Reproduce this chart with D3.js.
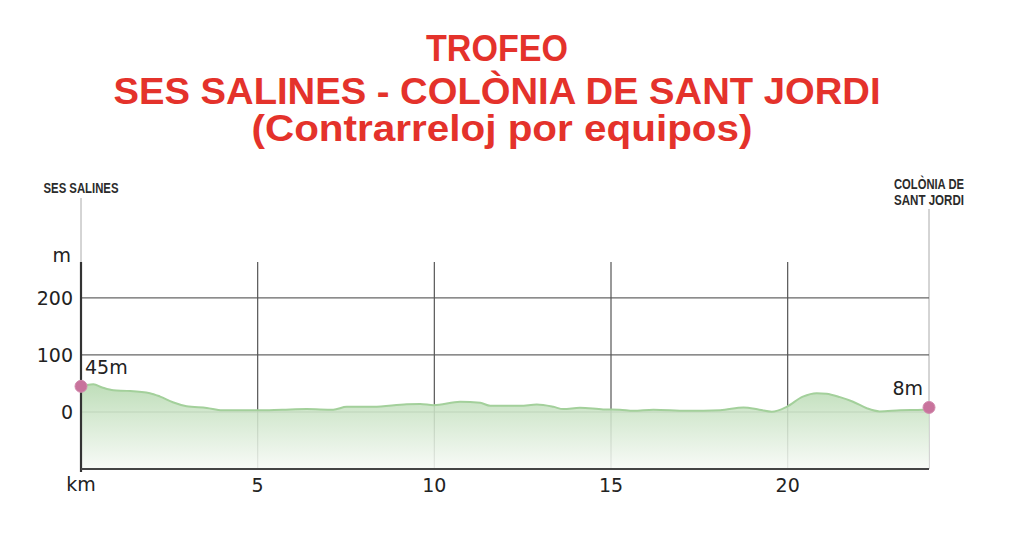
<!DOCTYPE html>
<html><head><meta charset="utf-8">
<script src="https://cdn.jsdelivr.net/npm/d3@7"></script>
<style>body{margin:0;background:#fff}svg{display:block}</style>
</head><body>
<svg id="c" width="1024" height="546"></svg>
<script>
const titleLines = ["TROFEO", "SES SALINES - COLÒNIA DE SANT JORDI", "(Contrarreloj por equipos)"];
const startName = ["SES SALINES"];
const endName = ["COLÒNIA DE", "SANT JORDI"];
const km =   [0, 0.15, 0.35, 0.6, 0.92, 1.3, 1.95, 2.24, 2.6, 2.99, 3.56, 4.0, 4.5, 5.0, 5.7, 6.39, 7.14, 7.52, 8.27, 9.22, 9.6, 9.98, 10.73, 11.3, 11.58, 12.43, 12.9, 13.37, 13.65, 14.12, 14.78, 15.25, 15.63, 16.2, 17.14, 18.09, 18.75, 19.2, 19.55, 19.97, 20.43, 20.82, 21.1, 21.48, 21.85, 22.24, 22.6, 23.18, 23.83, 24];
const elev = [45, 47, 48.5, 43, 38, 37, 33, 27, 17, 10, 7, 3, 3, 3, 4, 5, 4, 9, 9, 13.5, 14, 12, 18, 16, 11, 11, 13, 9, 5, 7.5, 4.5, 4, 2, 4, 2, 3, 8, 4, 0.5, 9, 27, 33, 32, 26, 18, 6.5, 1, 3, 4, 8];
const xTicks = [5, 10, 15, 20];
const yTicks = [0, 100, 200];
const endpoints = [{k: 0, e: 45, label: "45m"}, {k: 24, e: 8, label: "8m"}];

const svg = d3.select("#c");
const x = d3.scaleLinear().domain([0, 24]).range([81, 929]);
const y = d3.scaleLinear().domain([-100, 263]).range([469, 262]);
const data = km.map((k, i) => ({k, e: elev[i]}));

// title
const titleFont = "'Liberation Sans Narrow','Liberation Sans',Arial,sans-serif";
const tPos = [{b: 61, w: 142}, {b: 104, w: 767}, {b: 141, w: 501}];
svg.selectAll("text.title").data(titleLines).join("text")
  .attr("class", "title")
  .attr("x", (d, i) => 497 + (i === 2 ? 5 : 0))
  .attr("y", (d, i) => tPos[i].b)
  .attr("text-anchor", "middle")
  .attr("font-family", titleFont).attr("font-weight", "bold").attr("font-size", 37)
  .attr("fill", "#e4322b")
  .attr("textLength", (d, i) => tPos[i].w).attr("lengthAdjust", "spacingAndGlyphs")
  .text(d => d);

// place labels
svg.append("text").attr("x", 81).attr("y", 193).attr("text-anchor", "middle")
  .attr("font-family", titleFont).attr("font-weight", "bold").attr("font-size", 14)
  .attr("fill", "#2b2b2b").attr("textLength", 75).attr("lengthAdjust", "spacingAndGlyphs")
  .text(startName[0]);
svg.selectAll("text.endn").data(endName).join("text").attr("class", "endn")
  .attr("x", 929).attr("y", (d, i) => 189 + i * 16).attr("text-anchor", "middle")
  .attr("font-family", titleFont).attr("font-weight", "bold").attr("font-size", 14)
  .attr("fill", "#2b2b2b").attr("textLength", 70).attr("lengthAdjust", "spacingAndGlyphs")
  .text(d => d);

// thin place lines
svg.append("line").attr("x1", x(0)).attr("x2", x(0)).attr("y1", 198).attr("y2", y(263)).attr("stroke", "#aaa").attr("stroke-width", 1);
svg.append("line").attr("x1", x(24)).attr("x2", x(24)).attr("y1", 209).attr("y2", y(-100)).attr("stroke", "#aaa").attr("stroke-width", 1);

// gridlines
const g = svg.append("g");
g.selectAll("line.h").data(yTicks).join("line").attr("class", "h")
  .attr("x1", x(0)).attr("x2", x(24)).attr("y1", d => y(d)).attr("y2", d => y(d))
  .attr("stroke", "#666").attr("stroke-width", 1.2);
g.selectAll("line.v").data(xTicks).join("line").attr("class", "v")
  .attr("x1", d => x(d)).attr("x2", d => x(d)).attr("y1", y(263)).attr("y2", y(-100))
  .attr("stroke", "#555").attr("stroke-width", 1.2);

// gradient
const defs = svg.append("defs");
const grad = defs.append("linearGradient").attr("id", "gf").attr("gradientUnits", "userSpaceOnUse")
  .attr("x1", 0).attr("x2", 0).attr("y1", y(50)).attr("y2", y(-100));
grad.append("stop").attr("offset", 0).attr("stop-color", "#b7dab1").attr("stop-opacity", 0.9);
grad.append("stop").attr("offset", 0.45).attr("stop-color", "#d3e8cf").attr("stop-opacity", 0.86);
grad.append("stop").attr("offset", 1).attr("stop-color", "#f7faf6").attr("stop-opacity", 0.88);

const area = d3.area().x(d => x(d.k)).y0(y(-100)).y1(d => y(d.e)).curve(d3.curveMonotoneX);
const line = d3.line().x(d => x(d.k)).y(d => y(d.e)).curve(d3.curveMonotoneX);
svg.append("path").datum(data).attr("d", area).attr("fill", "url(#gf)");
svg.append("path").datum(data).attr("d", line).attr("fill", "none").attr("stroke", "#a3d09b").attr("stroke-width", 2);

// axes
const axFont = "'DejaVu Sans',Verdana,sans-serif";
svg.append("line").attr("x1", x(0)).attr("x2", x(0)).attr("y1", y(263)).attr("y2", y(-100) + 3).attr("stroke", "#333").attr("stroke-width", 2.2);
svg.append("line").attr("x1", x(0)).attr("x2", x(24)).attr("y1", y(-100)).attr("y2", y(-100)).attr("stroke", "#444").attr("stroke-width", 2.2);

svg.selectAll("text.yl").data(yTicks).join("text").attr("class", "yl")
  .attr("x", 73).attr("y", d => y(d) + 7).attr("text-anchor", "end")
  .attr("font-family", axFont).attr("font-size", 19).attr("fill", "#222").text(d => d);
svg.append("text").attr("x", 71).attr("y", 262).attr("text-anchor", "end")
  .attr("font-family", axFont).attr("font-size", 19).attr("fill", "#222").text("m");
svg.selectAll("text.xl").data(xTicks).join("text").attr("class", "xl")
  .attr("x", d => x(d)).attr("y", 492).attr("text-anchor", "middle")
  .attr("font-family", axFont).attr("font-size", 19).attr("fill", "#222").text(d => d);
svg.append("text").attr("x", x(0)).attr("y", 491).attr("text-anchor", "middle")
  .attr("font-family", axFont).attr("font-size", 19).attr("fill", "#222").text("km");

// endpoints
svg.selectAll("circle.ep").data(endpoints).join("circle").attr("class", "ep")
  .attr("cx", d => x(d.k)).attr("cy", d => y(d.e)).attr("r", 6)
  .attr("fill", "#c8739c").attr("stroke", "#d28aad").attr("stroke-width", 1);
svg.selectAll("text.ep").data(endpoints).join("text").attr("class", "ep")
  .attr("x", (d, i) => i === 0 ? x(d.k) + 4 : x(d.k) - 6)
  .attr("y", (d, i) => i === 0 ? 374 : 395)
  .attr("text-anchor", (d, i) => i === 0 ? "start" : "end")
  .attr("font-family", axFont).attr("font-size", 19).attr("fill", "#222").text(d => d.label);
</script>
</body></html>
